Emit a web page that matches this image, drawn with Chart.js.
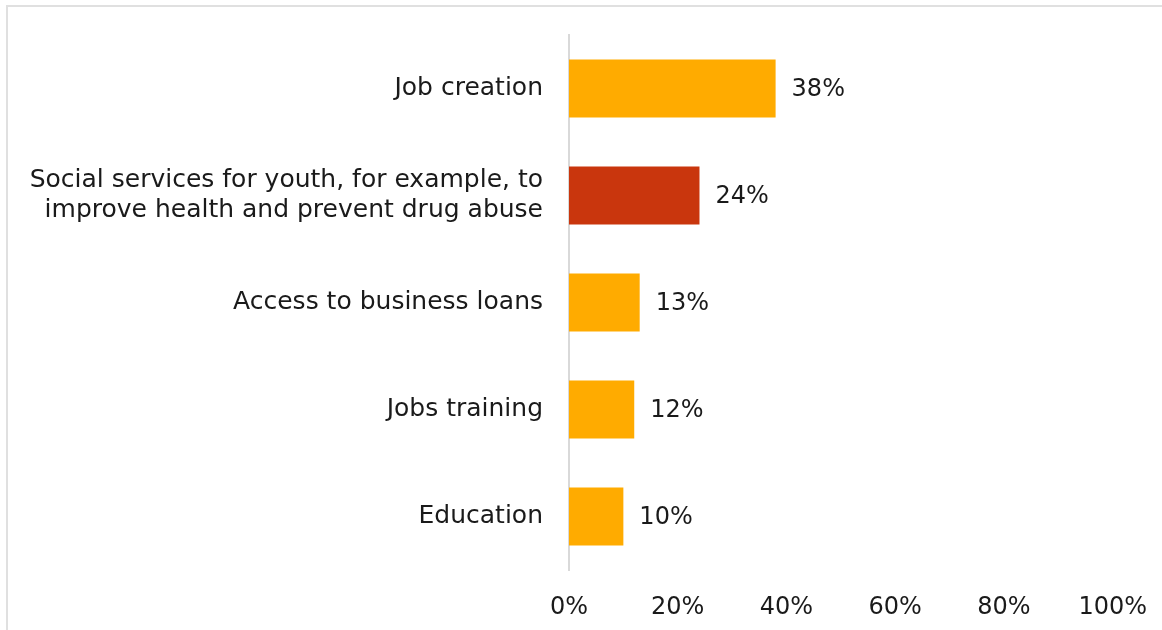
<!DOCTYPE html>
<html>
<head>
<meta charset="utf-8">
<script src="https://cdn.jsdelivr.net/npm/chart.js@4"></script>
<style>
  html, body { margin: 0; padding: 0; background: #fff; }
  #frame {
    position: absolute; left: 6px; top: 5px; width: 1200px; height: 700px;
    border-top: 2px solid #e0e0e0; border-left: 2px solid #e0e0e0;
  }
  #wrap { position: absolute; left: 0; top: 0; width: 1162px; height: 630px; }
</style>
</head>
<body>
<div id="frame"></div>
<div id="wrap"><canvas id="myChart"></canvas></div>
<script>
// categories and values (share of respondents, %)
let categories = [
    'Job creation',
    ['Social services for youth, for example, to', 'improve health and prevent drug abuse'],
    'Access to business loans',
    'Jobs training',
    'Education'
];
let values = [38, 24, 13, 12, 10];
let barColors = ['#ffab00', '#c9360d', '#ffab00', '#ffab00', '#ffab00'];
let xTicks = [0, 20, 40, 60, 80, 100];

let fontFamily = '"DejaVu Sans", sans-serif';

// value labels at the end of each bar
let valueLabels = {
    id: 'valueLabels',
    afterDatasetsDraw(chart) {
        let ctx = chart.ctx;
        let meta = chart.getDatasetMeta(0);
        ctx.save();
        ctx.font = '24px ' + fontFamily;
        ctx.fillStyle = '#1a1a1a';
        ctx.textAlign = 'left';
        ctx.textBaseline = 'middle';
        meta.data.forEach(function (bar, i) {
            ctx.fillText(values[i] + '%', bar.x + 16, bar.y + 1);
        });
        ctx.restore();
    }
};

let ctx = document.getElementById('myChart').getContext('2d');
let chart = new Chart(ctx, {
    type: 'bar',
    data: {
        labels: categories,
        datasets: [{
            data: values,
            backgroundColor: barColors,
            barPercentage: 0.54,
            categoryPercentage: 1.0
        }]
    },
    options: {
        indexAxis: 'y',
        responsive: true,
        maintainAspectRatio: false,
        animation: false,
        layout: { padding: { top: 35, right: 48, bottom: 0, left: 0 } },
        plugins: {
            legend: { display: false },
            tooltip: { enabled: false }
        },
        scales: {
            x: {
                min: 0,
                max: 100,
                afterBuildTicks(scale) {
                    scale.ticks = xTicks.map(v => ({ value: v }));
                },
                afterFit(scale) { scale.height = 60; },
                grid: { display: false },
                border: { display: false },
                ticks: {
                    padding: 15,
                    color: '#1a1a1a',
                    font: { family: fontFamily, size: 24 },
                    callback: v => v + '%'
                }
            },
            y: {
                afterFit(scale) { scale.width = 569; },
                grid: { display: false },
                border: { display: true, color: '#d9d9d9', width: 2 },
                ticks: {
                    padding: 18,
                    color: '#1a1a1a',
                    font: { family: fontFamily, size: 25, lineHeight: 1.2 }
                }
            }
        }
    },
    plugins: [valueLabels]
});
</script>
</body>
</html>
